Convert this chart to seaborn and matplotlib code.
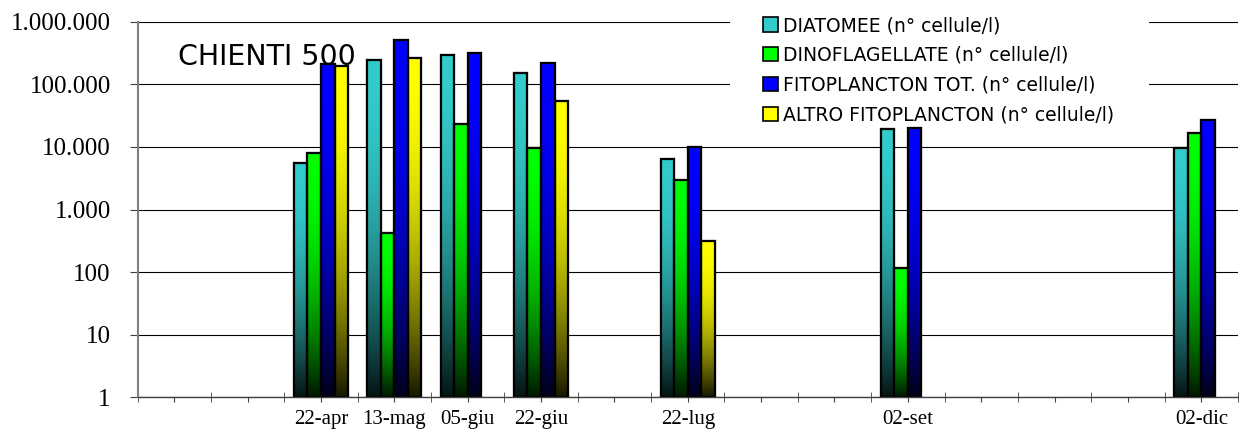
import numpy as np
import pandas as pd
import matplotlib
matplotlib.use("Agg")
import matplotlib.pyplot as plt
import matplotlib.transforms as mtransforms
from matplotlib.patches import Patch, Rectangle
from matplotlib.ticker import NullLocator
import seaborn as sns

# sampling dates and the slot each one takes on the category axis (15 slots, most empty)
dates = ["22-apr", "13-mag", "05-giu", "22-giu", "22-lug", "02-set", "02-dic"]
date_slot = [2, 3, 4, 5, 7, 10, 14]
n_slots = 15

# values in n° cellule/l
diatomee = [5500, 245000, 295000, 152000, 6500, 19500, 9500]
dinoflag = [7900, 425, 23500, 9500, 3000, 118, 16800]
fito_tot = [212000, 510000, 316000, 216000, 10000, 19800, 26500]
altro = [197000, 263000, np.nan, 55000, 310, np.nan, np.nan]

series = ["DIATOMEE (n° cellule/l)", "DINOFLAGELLATE (n° cellule/l)",
          "FITOPLANCTON TOT. (n° cellule/l)", "ALTRO FITOPLANCTON (n° cellule/l)"]
colors = ["#33CCCC", "#00FF00", "#0000FF", "#FFFF00"]

y_ticks = [1, 10, 100, 1000, 10000, 100000, 1000000]
y_labels = ["1", "10", "100", "1.000", "10.000", "100.000", "1.000.000"]

# long format table for seaborn
rows = []
for name, vals in zip(series, [diatomee, dinoflag, fito_tot, altro]):
    for d, v in zip(dates, vals):
        rows.append({"date": d, "series": name, "value": v})
df = pd.DataFrame(rows).dropna()

# category order: empty slots get placeholder names, blank tick labels
order = [f"slot{i}" for i in range(n_slots)]
x_labels = [""] * n_slots
for d, s in zip(dates, date_slot):
    order[s] = d
    x_labels[s] = d

fig, ax = plt.subplots(figsize=(12.39, 4.37), dpi=100)
fig.subplots_adjust(left=0.111, right=0.9992, bottom=0.0904, top=0.9503)
ax.set_yscale("log")

sns.barplot(data=df, x="date", y="value", hue="series", order=order,
            hue_order=series, palette=colors, saturation=1, width=0.74, gap=0,
            errorbar=None, edgecolor="black", linewidth=1.5, legend=False, ax=ax)

ax.set_ylim(1, 1e6)
ax.set_xlim(-0.5, n_slots - 0.5)

# vertical gradient on every bar: bright on top, dark at the bottom
trans = mtransforms.blended_transform_factory(ax.transData, ax.transAxes)
t = np.linspace(0, 1, 256)
shade = 1 - 0.9 * t ** 2.0
ylo, yhi = np.log10(ax.get_ylim())
for p in list(ax.patches):
    h = p.get_height()
    if not np.isfinite(h) or h <= 0:
        continue
    rgb = np.array(p.get_facecolor()[:3])
    img = shade[:, None, None] * rgb[None, None, :]
    x0, w = p.get_x(), p.get_width()
    top = (np.log10(h) - ylo) / (yhi - ylo)
    ax.imshow(img, extent=(x0, x0 + w, 0, top), transform=trans, aspect="auto",
              interpolation="bilinear", zorder=p.get_zorder() + 0.1)
    ax.add_patch(Rectangle((x0, 0), w, top, transform=trans, fill=False,
                           ec="black", lw=1.6, zorder=p.get_zorder() + 0.2))

ax.set_ylim(1, 1e6)
ax.set_xlim(-0.5, n_slots - 0.5)
ax.set_aspect("auto")

# axes styling
ax.set_xlabel("")
ax.set_ylabel("")
ax.set_axisbelow(True)
ax.yaxis.grid(True, color="black", lw=0.8)
ax.xaxis.grid(False)
for s in ["top", "right"]:
    ax.spines[s].set_visible(False)
ax.spines["left"].set_color("#808080")
ax.spines["left"].set_linewidth(1.5)
ax.spines["bottom"].set_color("#404040")
ax.spines["bottom"].set_linewidth(1.0)

ax.set_yticks(y_ticks, y_labels)
ax.yaxis.set_minor_locator(NullLocator())
ax.tick_params(axis="y", length=5.8, pad=13.5, color="#404040", labelsize=18)
ax.set_xticks(range(n_slots), x_labels)
ax.set_xticks(np.arange(-0.5, n_slots, 1), minor=True)
ax.tick_params(axis="x", which="major", length=3.6, pad=5.4, color="#404040",
               labelsize=15)
ax.tick_params(axis="x", which="minor", direction="inout", length=7.2,
               color="#404040")
for lab in ax.get_xticklabels() + ax.get_yticklabels():
    lab.set_family("Liberation Serif")

# white box behind the legend (hides the gridlines there)
ax.add_patch(Rectangle((730 / 1239, 1 - 125 / 437), (1149 - 730) / 1239, 117 / 437,
                       transform=fig.transFigure, fc="white", ec="none",
                       zorder=0.8, clip_on=False))

handles = [Patch(facecolor=c, edgecolor="black", lw=1.2) for c in colors]
ax.legend(handles, series, loc="upper left", bbox_to_anchor=(763 / 1239, 1 - 16 / 437),
          bbox_transform=fig.transFigure, frameon=False, borderpad=0, borderaxespad=0,
          handlelength=0.78, handleheight=0.78, handletextpad=0.3, labelspacing=0.58,
          prop={"family": "DejaVu Sans", "size": 13.5})

fig.text(178 / 1239, 1 - 65 / 437, "CHIENTI 500", fontsize=20.5, family="DejaVu Sans",
         ha="left", va="baseline")

fig.savefig("out.png", dpi=100)
